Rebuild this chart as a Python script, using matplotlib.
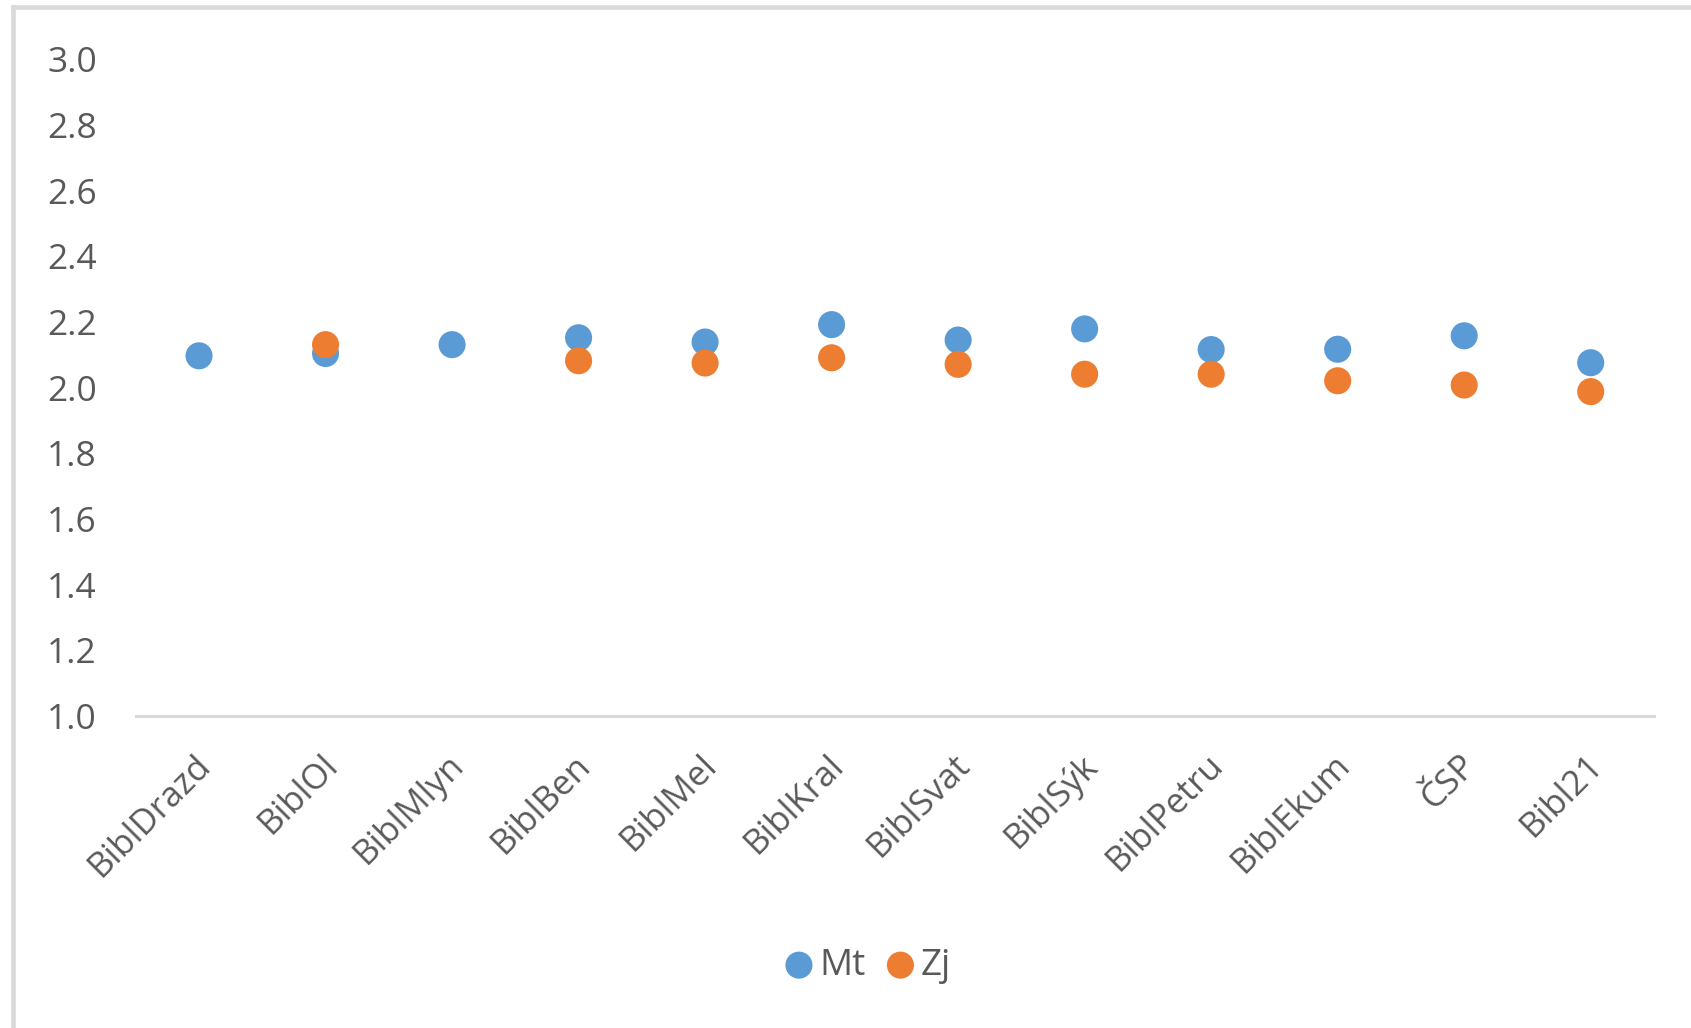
import matplotlib
matplotlib.use("Agg")
import matplotlib.pyplot as plt
from matplotlib.lines import Line2D
from matplotlib.transforms import ScaledTranslation

# Translations of the Bible and the mean value for two books
translations = ["BiblDrazd", "BiblOl", "BiblMlyn", "BiblBen", "BiblMel", "BiblKral",
                "BiblSvat", "BiblSýk", "BiblPetru", "BiblEkum", "ČSP", "Bibl21"]
mt_values = [2.097, 2.104, 2.131, 2.152, 2.139, 2.192, 2.145, 2.179, 2.116, 2.117, 2.158, 2.076]
zj_values = [None, 2.131, None, 2.082, 2.075, 2.091, 2.071, 2.041, 2.041, 2.021, 2.008, 1.988]
y_ticks = [1.0, 1.2, 1.4, 1.6, 1.8, 2.0, 2.2, 2.4, 2.6, 2.8, 3.0]

BLUE = "#5B9BD5"
ORANGE = "#ED7D31"
TEXT = "#595959"
FRAME = "#D9D9D9"

plt.rcParams["font.family"] = ["Open Sans", "DejaVu Sans"]

fig = plt.figure(figsize=(16.91, 10.28), dpi=100)
fig.patch.set_facecolor("white")
ax = fig.add_axes([0.0803, 0.3035, 0.8978, 0.6388])

x = list(range(len(translations)))
mt_x = [i for i, v in zip(x, mt_values) if v is not None]
mt_y = [v for v in mt_values if v is not None]
zj_x = [i for i, v in zip(x, zj_values) if v is not None]
zj_y = [v for v in zj_values if v is not None]

ax.scatter(mt_x, mt_y, s=380, color=BLUE, edgecolors="none", zorder=3, label="Mt")
ax.scatter(zj_x, zj_y, s=380, color=ORANGE, edgecolors="none", zorder=4, label="Zj")

ax.set_xlim(-0.5, len(translations) - 0.5)
ax.set_ylim(1.0, 3.0)
ax.set_yticks(y_ticks)
ax.set_yticklabels([f"{v:.1f}" for v in y_ticks])
ax.set_xticks(x)
ax.set_xticklabels(translations)

for side in ("top", "right", "left"):
    ax.spines[side].set_visible(False)
ax.spines["bottom"].set_color(FRAME)
ax.spines["bottom"].set_linewidth(2.2)
ax.spines["bottom"].set_zorder(1)

ax.tick_params(axis="y", length=0, pad=28, labelsize=25.5, labelcolor=TEXT)
ax.tick_params(axis="x", length=0, pad=23, labelsize=25, labelcolor=TEXT)
shift = ScaledTranslation(-0.05, 0, fig.dpi_scale_trans)
for lab in ax.get_xticklabels():
    lab.set_rotation(45)
    lab.set_ha("right")
    lab.set_va("top")
    lab.set_rotation_mode("anchor")
    lab.set_transform(lab.get_transform() + shift)

leg = fig.legend(loc="center", bbox_to_anchor=(0.512, 0.0605), ncol=2, frameon=False,
                 fontsize=26.5, handletextpad=0.05, columnspacing=0.45,
                 handlelength=1.0, markerscale=1.0, labelcolor=TEXT)

# outer chart frame
fig.add_artist(Line2D([12.5 / 1691, 12.5 / 1691], [0, 1 - 7 / 1028], color=FRAME,
                      linewidth=3.3, transform=fig.transFigure))
fig.add_artist(Line2D([12.5 / 1691, 1], [1 - 7 / 1028, 1 - 7 / 1028], color=FRAME,
                      linewidth=3.3, transform=fig.transFigure))

fig.savefig("out.png", dpi=100, facecolor="white")
